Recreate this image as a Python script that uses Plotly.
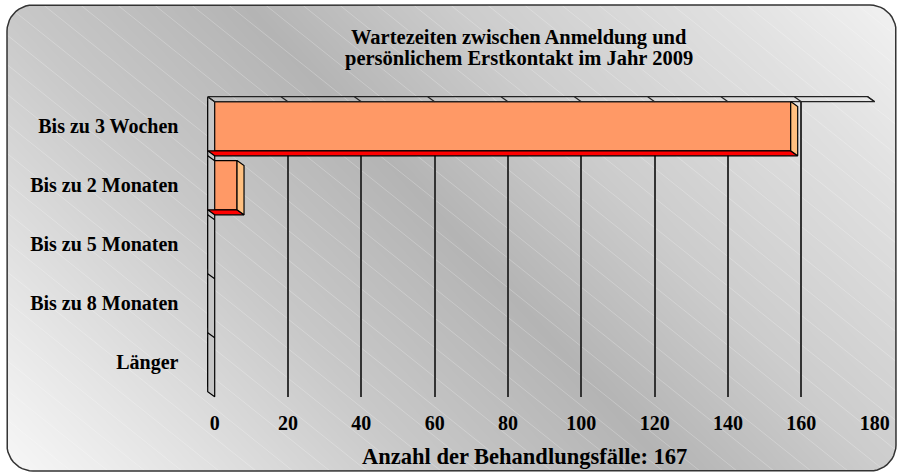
import numpy as np
import plotly.graph_objects as go

# Daten
kategorien = ["Bis zu 3 Wochen", "Bis zu 2 Monaten", "Bis zu 5 Monaten", "Bis zu 8 Monaten", "Länger"]
faelle = [159, 8, 0, 0, 0]
x_ticks = [0, 20, 40, 60, 80, 100, 120, 140, 160, 180]

titel_zeilen = ["Wartezeiten zwischen Anmeldung und", "persönlichem Erstkontakt im Jahr 2009"]
x_titel = "Anzahl der Behandlungsfälle: %d" % sum(faelle)

W, H = 898, 473
FONT = "Liberation Serif"

def fx(p):
    return p / W

def fy(p):
    return 1 - p / H

# Rückwand (back wall) in Pixel
bx0, bx1 = 214.7, 874.7
by0, by1 = 101.7, 396.7
xmax = x_ticks[-1]
n = len(kategorien)
sx = (bx1 - bx0) / xmax
sy = (by1 - by0) / n
# 3D-Tiefe: Vorderseite liegt 7px links, 5px höher
dxu = 7 / sx
dyu = 5 / sy
fx0, fy0 = bx0 - 7, by0 - 5
bar_w = 0.836
h = bar_w / 2

fig = go.Figure()

# ---- Hintergrund: diagonaler Verlauf + Streifen ----
gx = np.linspace(0, W, 46)
gy = np.linspace(0, H, 25)
GX, GY = np.meshgrid(gx, gy)
zz = 1.1 * GX - GY
zmin, zmax = -H, 1.1 * W
def st(v):
    return (v - zmin) / (zmax - zmin)
scale = [[0, "#f8f8f8"], [st(-270), "#e4e4e4"], [st(0), "#c8c8c8"], [st(267), "#b4b4b4"],
         [st(495), "#cccccc"], [st(785), "#e0e0e0"], [1, "#f2f2f2"]]
fig.add_trace(go.Heatmap(x=gx, y=gy, z=zz, zmin=zmin, zmax=zmax, colorscale=scale,
                         zsmooth="best", showscale=False, hoverinfo="skip",
                         xaxis="x", yaxis="y"))

sxs, sys_ = [], []
for c in np.arange(-H - 30, 0.8 * W + 30, 29.6):
    sxs += [0, W, None]
    sys_ += [-c, 0.8 * W - c, None]
fig.add_trace(go.Scatter(x=sxs, y=sys_, mode="lines", hoverinfo="skip",
                         line=dict(color="rgba(255,255,255,0.3)", width=0.8),
                         xaxis="x", yaxis="y", showlegend=False))

# weiße Ecken ausserhalb des abgerundeten Rahmens
L, R, T, B, rad = 7, 896, 5, 471, 26
def arc(cx, cy, a0, a1):
    a = np.linspace(a0, a1, 12)
    return list(cx + rad * np.cos(a)), list(cy + rad * np.sin(a))
mx = [0, W, W, 0, 0]
my = [0, 0, H, H, 0]
segs = [arc(L + rad, B - rad, np.pi, np.pi / 2),
        arc(R - rad, B - rad, np.pi / 2, 0),
        arc(R - rad, T + rad, 0, -np.pi / 2),
        arc(L + rad, T + rad, -np.pi / 2, -np.pi)]
ix, iy = [L], [T + rad]
for ax_, ay_ in segs:
    ix += ax_
    iy += ay_
fig.add_trace(go.Scatter(x=mx + ix + [0], y=my + iy + [0], mode="lines", fill="toself",
                         fillcolor="white", line=dict(width=0), hoverinfo="skip",
                         xaxis="x", yaxis="y", showlegend=False))
fig.add_trace(go.Scatter(x=ix, y=iy, mode="lines", line=dict(color="#333333", width=1.5),
                         hoverinfo="skip", xaxis="x", yaxis="y", showlegend=False))

# Rückwand: unsichtbare Spur, damit das Gitter gezeichnet wird
fig.add_trace(go.Scatter(x=[0, xmax], y=[0, 0], mode="markers", marker=dict(opacity=0),
                         hoverinfo="skip", xaxis="x2", yaxis="y2", showlegend=False))

# ---- Vorderebene: Boden, Decke, Balken ----
idx = list(range(n))
grau = dict(color="black", width=1.2)

# linke Wand (Kategorienachse)
fig.add_trace(go.Scatter(x=[0, dxu, dxu, 0, 0], y=[-0.5, -0.5 + dyu, n - 0.5 + dyu, n - 0.5, -0.5],
                         mode="lines", fill="toself", fillcolor="#c6c6c6", line=grau,
                         hoverinfo="skip", xaxis="x3", yaxis="y3", showlegend=False))
tx, ty = [], []
for k in range(n - 1):
    tx += [0, dxu, None]
    ty += [k + 0.5, k + 0.5 + dyu, None]
fig.add_trace(go.Scatter(x=tx, y=ty, mode="lines", line=grau, hoverinfo="skip",
                         xaxis="x3", yaxis="y3", showlegend=False))

# Decke mit schrägen Gitterlinien
cx_, cy_ = [0, xmax, xmax + dxu, dxu, 0, None], [-0.5, -0.5, -0.5 + dyu, -0.5 + dyu, -0.5, None]
for t in x_ticks[1:]:
    cx_ += [t, t + dxu, None]
    cy_ += [-0.5, -0.5 + dyu, None]
fig.add_trace(go.Scatter(x=cx_, y=cy_, mode="lines", line=dict(color="#222222", width=1.2),
                         hoverinfo="skip", xaxis="x3", yaxis="y3", showlegend=False))

# Balken Vorderseite
fig.add_trace(go.Bar(x=faelle, y=idx, orientation="h", width=bar_w,
                     marker=dict(color="#FF9966", line=dict(color="black", width=1.2)),
                     hoverinfo="skip", xaxis="x3", yaxis="y3", showlegend=False))

# Unterseite (rot) und Stirnseite (hell) der Balken
for k, v in zip(idx, faelle):
    if v <= 0:
        continue
    fig.add_trace(go.Scatter(x=[0, v, v + dxu, dxu, 0],
                             y=[k + h, k + h, k + h + dyu, k + h + dyu, k + h],
                             mode="lines", fill="toself", fillcolor="#FF0000", line=grau,
                             hoverinfo="skip", xaxis="x3", yaxis="y3", showlegend=False))
    fig.add_trace(go.Scatter(x=[v, v + dxu, v + dxu, v, v],
                             y=[k - h, k - h + dyu, k + h + dyu, k + h, k - h],
                             mode="lines", fill="toself", fillcolor="#FFC080", line=grau,
                             hoverinfo="skip", xaxis="x3", yaxis="y3", showlegend=False))

# ---- Layout ----
e = 0.05
pad_x = 0.6
pad_y = 0.06
x3_lo, x3_hi = -pad_x, xmax + dxu + pad_x
y3_lo, y3_hi = -0.5 - pad_y, n - 0.5 + dyu + pad_y

tickfont = dict(family=FONT, size=20, color="black", weight="bold")

anns = []
for i, zeile in enumerate(titel_zeilen):
    anns.append(dict(text="<b>" + zeile + "</b>", x=fx(519), y=fy(37 + 21 * i),
                     xref="paper", yref="paper", xanchor="center", yanchor="middle",
                     showarrow=False, font=dict(family=FONT, size=20.5, color="black")))
anns.append(dict(text="<b>" + x_titel + "</b>", x=fx(524), y=fy(456), xref="paper", yref="paper",
                 xanchor="center", yanchor="middle", showarrow=False,
                 font=dict(family=FONT, size=22.5, color="black")))

fig.update_layout(
    width=W, height=H, autosize=False,
    margin=dict(l=0, r=0, t=0, b=0),
    paper_bgcolor="white", plot_bgcolor="rgba(0,0,0,0)",
    showlegend=False,
    xaxis=dict(domain=[0, 1], range=[0, W], visible=False, fixedrange=True, automargin=False),
    yaxis=dict(domain=[0, 1], range=[H, 0], visible=False, fixedrange=True, automargin=False),
    xaxis2=dict(domain=[fx(bx0 - e * sx), fx(bx1 + e * sx)], range=[-e, xmax + e], anchor="y2",
                tickvals=x_ticks, showgrid=True, gridcolor="#333333", gridwidth=1.5,
                zeroline=False, showline=False, ticks="", tickfont=tickfont,
                ticklabelstandoff=12, fixedrange=True, automargin=False),
    yaxis2=dict(domain=[fy(by1), fy(by0)], range=[n - 0.5, -0.5], anchor="x2",
                showgrid=False, zeroline=False, showticklabels=False, ticks="",
                fixedrange=True, automargin=False),
    xaxis3=dict(domain=[fx(fx0 + x3_lo * sx), fx(fx0 + x3_hi * sx)], range=[x3_lo, x3_hi],
                anchor="y3", visible=False, fixedrange=True, automargin=False),
    yaxis3=dict(domain=[fy(fy0 + (y3_hi + 0.5) * sy), fy(fy0 + (y3_lo + 0.5) * sy)],
                range=[y3_hi, y3_lo], anchor="x3",
                tickvals=idx, ticktext=kategorien, showgrid=False, zeroline=False,
                showline=False, ticks="", tickfont=tickfont, ticklabelstandoff=26,
                fixedrange=True, automargin=False),
    annotations=anns,
)

fig.write_html("out.html", config={"displayModeBar": False},
               post_script="document.body.style.margin='0';")
